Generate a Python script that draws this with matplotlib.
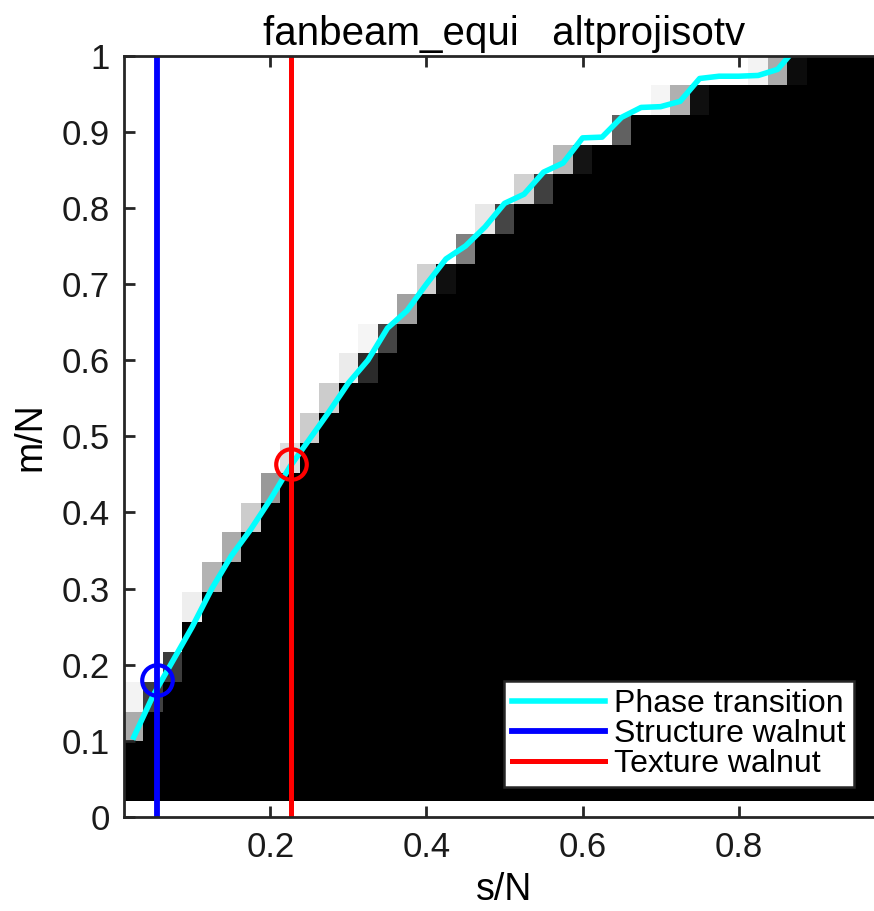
import numpy as np
import matplotlib.pyplot as plt

plt.rcParams['font.family'] = ['Liberation Sans', 'DejaVu Sans']

# grid of the phase diagram (cell centres)
s_centers = np.arange(0.025, 0.976, 0.025)          # 39 columns
m_centers = np.linspace(0.04, 0.98, 25)             # 25 rows

# per column: number of black cells from the bottom, then the gray cells above it
black_rows = [2, 3, 4, 6, 7, 8, 9, 10, 11, 12, 13, 14, 14, 15, 16, 17, 17, 18, 19, 19,
              20, 20, 21, 21, 22, 22, 23, 23, 23, 23, 24, 24, 24, 24, 24, 25, 25, 25, 25]
gray_cells = [[0.67, 0.95], [0.25], [0.24], [0.93], [0.70], [0.67], [0.80], [0.60],
              [0.87], [0.80], [0.80], [0.92], [0.17, 0.96], [0.27], [0.63], [0.82],
              [0.06], [0.50], [0.91], [0.27], [0.82], [0.25], [0.72], [0.08], [],
              [0.38], [], [0.96], [0.69], [0.06], [], [], [0.95], [0.67], [0.05],
              [], [], [], []]

# phase transition curve
pt_s = [0.025, 0.05, 0.075, 0.1, 0.125, 0.15, 0.175, 0.2, 0.225, 0.25, 0.275, 0.3,
        0.325, 0.35, 0.375, 0.4, 0.425, 0.45, 0.475, 0.5, 0.525, 0.55, 0.575, 0.6,
        0.625, 0.65, 0.675, 0.7, 0.725, 0.75, 0.775, 0.8, 0.825, 0.85, 0.865]
pt_m = [0.105, 0.16, 0.205, 0.25, 0.30, 0.343, 0.378, 0.417, 0.46, 0.496, 0.532, 0.57,
        0.60, 0.642, 0.665, 0.70, 0.733, 0.75, 0.775, 0.806, 0.818, 0.847, 0.859, 0.892,
        0.893, 0.919, 0.932, 0.933, 0.94, 0.97, 0.973, 0.973, 0.974, 0.982, 1.0]

structure_s, structure_m = 0.055, 0.18
texture_s, texture_m = 0.226, 0.463

# build image (rows from bottom)
img = np.ones((len(m_centers), len(s_centers)))
for j, (nb, g) in enumerate(zip(black_rows, gray_cells)):
    img[:nb, j] = 0.0
    for k, v in enumerate(g):
        if nb + k < len(m_centers):
            img[nb + k, j] = v

ds = s_centers[1] - s_centers[0]
dm = m_centers[1] - m_centers[0]
extent = [s_centers[0] - ds / 2, s_centers[-1] + ds / 2,
          m_centers[0] - dm / 2, m_centers[-1] + dm / 2]

fig = plt.figure(figsize=(8.74, 9.11), dpi=100)
ax = fig.add_axes([0.1419, 0.1032, 0.8707, 0.8357])

ax.imshow(img, cmap='gray', vmin=0, vmax=1, origin='lower', extent=extent,
          aspect='auto', interpolation='nearest')

ax.plot(pt_s, pt_m, color='cyan', linewidth=4, label='Phase transition')
ax.axvline(structure_s, color='blue', linewidth=4.2, label='Structure walnut')
ax.axvline(texture_s, color='red', linewidth=3.6, label='Texture walnut')
ax.plot(structure_s, structure_m, 'o', mfc='none', mec='blue', ms=22, mew=3)
ax.plot(texture_s, texture_m, 'o', mfc='none', mec='red', ms=22, mew=3)

ax.set_xlim(extent[0], extent[1])
ax.set_ylim(0, 1)
ax.set_xticks([0.2, 0.4, 0.6, 0.8])
ax.set_xticklabels(['0.2', '0.4', '0.6', '0.8'])
ax.set_yticks(np.round(np.arange(0, 1.01, 0.1), 1))
ax.set_yticklabels(['0', '0.1', '0.2', '0.3', '0.4', '0.5', '0.6', '0.7', '0.8', '0.9', '1'])
ax.tick_params(direction='in', length=8, width=2, labelsize=25, colors='#262626',
               top=True, right=True, pad=10)
for lab in ax.get_xticklabels() + ax.get_yticklabels():
    lab.set_color('#1a1a1a')
for sp in ax.spines.values():
    sp.set_linewidth(2)
    sp.set_color('#262626')

ax.set_xlabel('s/N', fontsize=27, labelpad=6)
ax.set_ylabel('m/N', fontsize=27, labelpad=10)
ax.set_title('fanbeam_equi   altprojisotv', fontsize=29, pad=8)

leg = ax.legend(loc='lower right', bbox_to_anchor=(0.959, 0.039), borderaxespad=0,
                fontsize=23, fancybox=False, framealpha=1, edgecolor='#262626',
                handlelength=2.9, handletextpad=0.3, labelspacing=0.0,
                borderpad=0.25)
leg.get_frame().set_linewidth(1.8)

fig.savefig('out.png', dpi=100)
